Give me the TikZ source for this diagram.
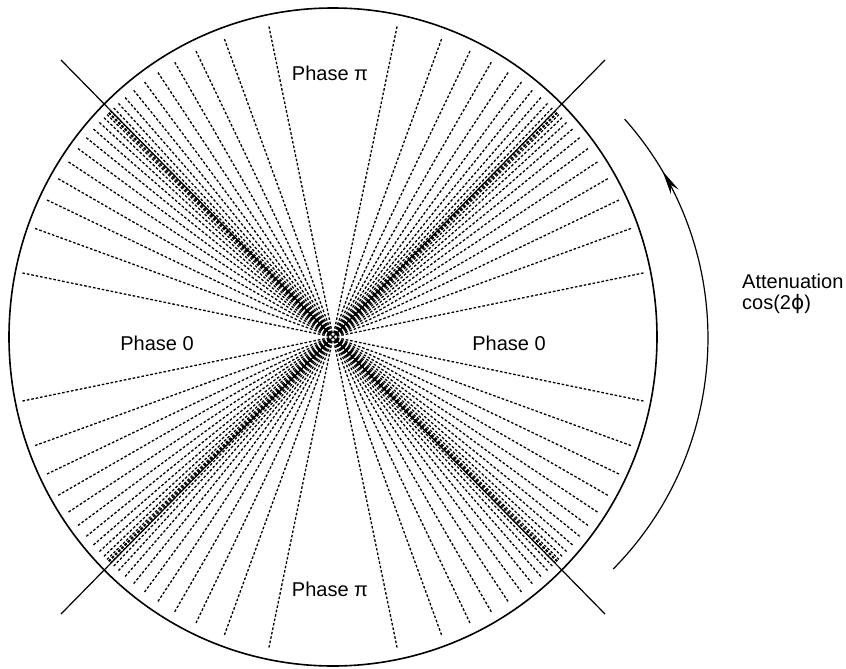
\documentclass[tikz,border=0pt]{standalone}
\usepackage{fontspec}
\setmainfont{Liberation Sans}
\newfontfamily\phifont{DejaVu Sans}
\usetikzlibrary{arrows.meta, decorations.markings}
\tikzset{
  rim/.style = {
    draw = black, line width = 1.6pt,
  }
}
\tikzset{
  axisline/.style = {
    draw = black, line width = 1.2pt,
  }
}
\tikzset{
  spoke/.style = {
    draw = black, line width = 1.3pt, dash pattern = on 2.6pt off 1.9pt,
  }
}
\tikzset{
  lbl/.style = {
    font = \fontsize{20}{21}\selectfont, inner sep = 0pt,
  }
}
\tikzset{
  attnarc/.style = {
    draw = black, line width = 1.2pt,
    postaction = {decorate, decoration = {markings,
      mark = at position 0.87 with {\arrow{Stealth[length = 24pt, width = 9pt]}}}},
  }
}

\begin{document}
\begin{tikzpicture}[x = 1pt, y = -1pt]
        \useasboundingbox (0,0) rectangle (846,669);
        \coordinate (o) at (333,337);
        \coordinate (d1) at (61,60);
        \coordinate (d2) at (605,614);
        \coordinate (d3) at (605,60);
        \coordinate (d4) at (61,614);
        \coordinate (a0) at (379,338);
        % dashed spokes where sqrt|cos 2phi| steps evenly
        \foreach \j in {1,...,12}{
            \pgfmathsetmacro\tilt{acos(((\j-0.5)/12)^2)/2}
            \foreach \a in {\tilt, -\tilt, 180+\tilt, 180-\tilt, 90+\tilt, 90-\tilt, 270+\tilt, 270-\tilt}
                \draw[spoke] ([shift = {(\a:4)}]o) -- ([shift = {(\a:318)}]o);
        }
        \draw[rim] (o) ellipse [x radius = 324, y radius = 329];
        \draw[axisline] (d1) -- (d2);
        \draw[axisline] (d3) -- (d4);
        \node[lbl](ptop) at (330,73){Phase π};
        \node[lbl](pbot) at (330,589){Phase π};
        \node[lbl](pleft) at (157,343){Phase 0};
        \node[lbl](pright) at (509,343){Phase 0};
        \node[lbl, anchor = base west](att) at (742,288){Attenuation};
        \node[lbl, anchor = base west](cosf) at (742,309){cos(2{\phifont ϕ})};
        \draw[attnarc] ([shift = {(44.6:329)}]a0) arc [start angle = 44.6, end angle = -41.7, radius = 329];
    \end{tikzpicture}
\end{document}
